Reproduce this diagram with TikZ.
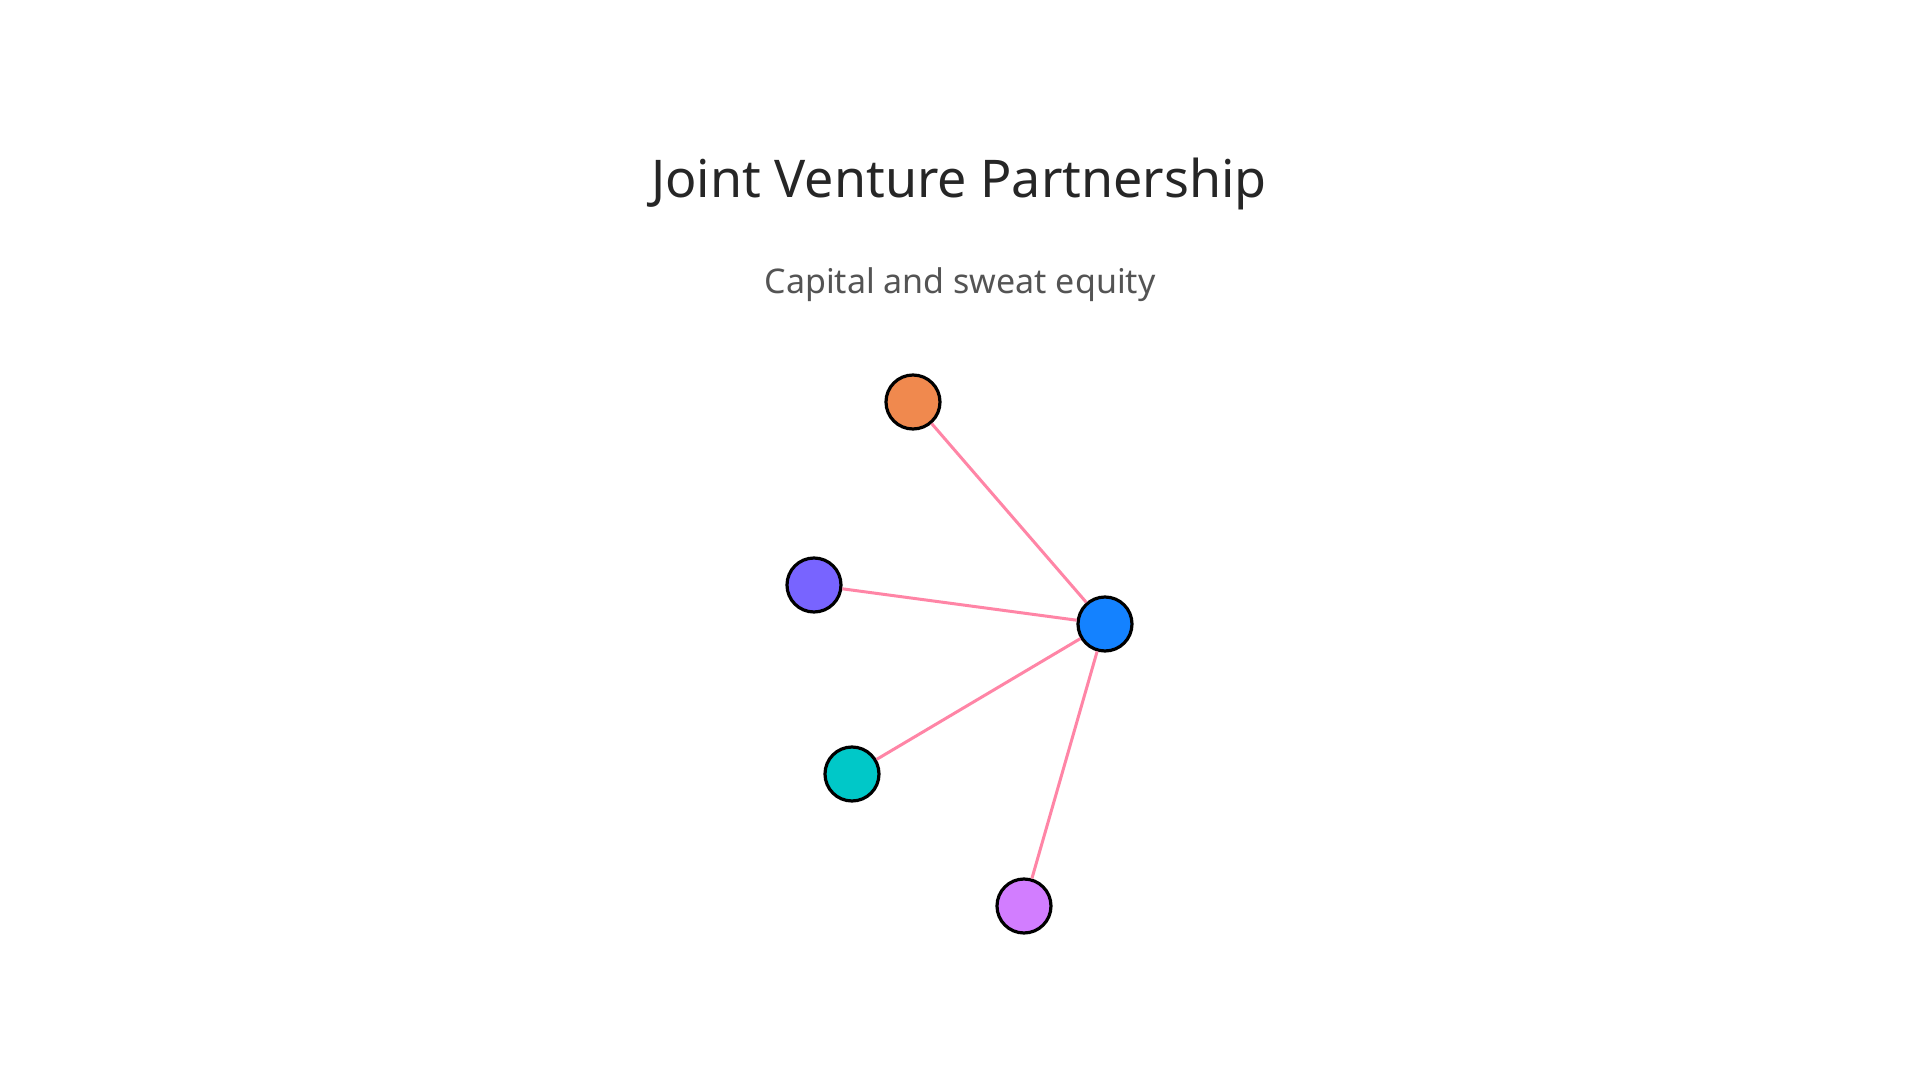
\documentclass[tikz,border=0pt]{standalone}
\usepackage{fontspec}
\setmainfont{Noto Sans}
\definecolor{edgec}{HTML}{FF85A6}
\tikzset{dot/.style={circle,draw=black,line width=0.8pt,minimum size=13.5pt,inner sep=0pt},
edge/.style={edgec,line width=0.75pt}}
\begin{document}
\begin{tikzpicture}[x=0.25pt,y=-0.25pt]
\useasboundingbox[fill=white] (0,0) rectangle (1920,1080);
\node[text=black!85,font=\fontsize{13}{15}\selectfont] (title) at (959,184) {Joint Venture Partnership};
\node[text=black!67,font=\fontsize{8.5}{10}\selectfont] (sub) at (960,285) {Capital and sweat equity};
\node[dot,fill={rgb,255:red,240;green,137;blue,78}] (o) at (913,402) {};
\node[dot,fill={rgb,255:red,120;green,100;blue,255}] (p) at (814,585) {};
\node[dot,fill={rgb,255:red,20;green,130;blue,255}] (b) at (1105,624) {};
\node[dot,fill={rgb,255:red,0;green,200;blue,200}] (t) at (852,774) {};
\node[dot,fill={rgb,255:red,210;green,125;blue,255}] (k) at (1024,906) {};
\draw[edge] (b) -- (o);
\draw[edge] (b) -- (p);
\draw[edge] (b) -- (t);
\draw[edge] (b) -- (k);
\end{tikzpicture}
\end{document}
